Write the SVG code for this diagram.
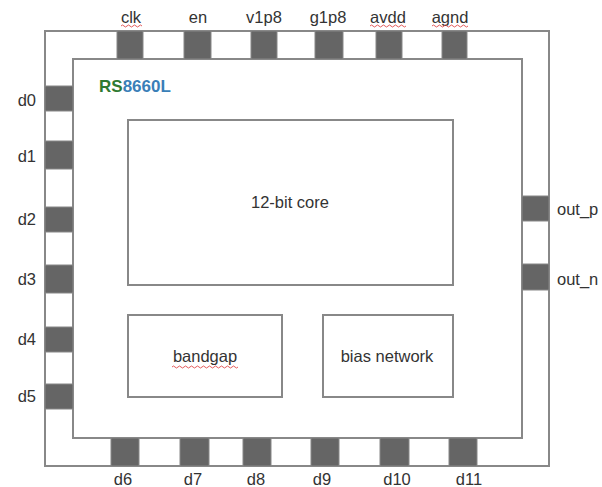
<svg xmlns="http://www.w3.org/2000/svg" width="602" height="487" viewBox="0 0 602 487">
<style>
.frame{fill:#fff;stroke:#888;stroke-width:2}
.blk{fill:#fff;stroke:#888;stroke-width:2}
.pad{fill:#656565;stroke:#888;stroke-width:1}
.lbl{font-family:"Liberation Sans",Arial,sans-serif;font-size:16.5px;fill:#333}
.mid{text-anchor:middle}
.end{text-anchor:end}
.sq{fill:none;stroke:#e04848;stroke-width:0.9}
</style>
<rect width="602" height="487" fill="#fff"/>
<g id="package">
<rect class="frame" x="45" y="31" width="504" height="435"/>
<rect class="frame" x="73" y="59" width="449" height="379"/>
<text x="99" y="92" style="font-family:'Liberation Sans',Arial,sans-serif;font-size:17px;font-weight:bold"><tspan fill="#2f7a32">RS</tspan><tspan fill="#3a7fb8">8660L</tspan></text>
</g>
<g id="pads-top">
<g id="pad-clk"><rect class="pad" x="117" y="31" width="26" height="28"/><text class="lbl mid" x="131" y="23">clk</text><path class="sq" d="M121 26 q1.5 -2 3 0 t3 0 t3 0 t3 0 t3 0 t3 0 t3 0"/></g>
<g id="pad-en"><rect class="pad" x="184" y="31" width="27" height="28"/><text class="lbl mid" x="198" y="23">en</text></g>
<g id="pad-v1p8"><rect class="pad" x="251" y="31" width="26" height="28"/><text class="lbl mid" x="264" y="23">v1p8</text></g>
<g id="pad-g1p8"><rect class="pad" x="315" y="31" width="28" height="28"/><text class="lbl mid" x="328" y="23">g1p8</text></g>
<g id="pad-avdd"><rect class="pad" x="376" y="31" width="26" height="28"/><text class="lbl mid" x="388" y="23">avdd</text><path class="sq" d="M370 26 q1.5 -2 3 0 t3 0 t3 0 t3 0 t3 0 t3 0 t3 0 t3 0 t3 0 t3 0 t3 0 t3 0"/></g>
<g id="pad-agnd"><rect class="pad" x="442" y="31" width="25" height="28"/><text class="lbl mid" x="450" y="23">agnd</text><path class="sq" d="M432 26 q1.5 -2 3 0 t3 0 t3 0 t3 0 t3 0 t3 0 t3 0 t3 0 t3 0 t3 0 t3 0 t3 0"/></g>
</g>
<g id="pads-left">
<g id="pad-d0"><rect class="pad" x="45" y="86" width="28" height="25"/><text class="lbl end" x="36" y="106">d0</text></g>
<g id="pad-d1"><rect class="pad" x="45" y="141" width="28" height="28"/><text class="lbl end" x="36" y="162">d1</text></g>
<g id="pad-d2"><rect class="pad" x="45" y="207" width="28" height="25"/><text class="lbl end" x="36" y="225">d2</text></g>
<g id="pad-d3"><rect class="pad" x="45" y="265" width="28" height="28"/><text class="lbl end" x="36" y="285">d3</text></g>
<g id="pad-d4"><rect class="pad" x="45" y="327" width="28" height="25"/><text class="lbl end" x="36" y="345">d4</text></g>
<g id="pad-d5"><rect class="pad" x="45" y="384" width="28" height="25"/><text class="lbl end" x="36" y="402">d5</text></g>
</g>
<g id="pads-right">
<g id="pad-out_p"><rect class="pad" x="522" y="196" width="27" height="25"/><text class="lbl" x="557" y="215">out_p</text></g>
<g id="pad-out_n"><rect class="pad" x="522" y="264" width="27" height="26"/><text class="lbl" x="557" y="285">out_n</text></g>
</g>
<g id="pads-bottom">
<g id="pad-d6"><rect class="pad" x="111" y="438" width="28" height="28"/><text class="lbl mid" x="123" y="485">d6</text></g>
<g id="pad-d7"><rect class="pad" x="180" y="438" width="29" height="28"/><text class="lbl mid" x="193" y="485">d7</text></g>
<g id="pad-d8"><rect class="pad" x="243" y="438" width="28" height="28"/><text class="lbl mid" x="256" y="485">d8</text></g>
<g id="pad-d9"><rect class="pad" x="311" y="438" width="28" height="28"/><text class="lbl mid" x="322" y="485">d9</text></g>
<g id="pad-d10"><rect class="pad" x="380" y="438" width="29" height="28"/><text class="lbl mid" x="397" y="485">d10</text></g>
<g id="pad-d11"><rect class="pad" x="449" y="438" width="28" height="28"/><text class="lbl mid" x="469" y="485">d11</text></g>
</g>
<g id="core"><rect class="blk" x="128" y="120" width="325" height="165"/><text class="lbl mid" x="290" y="208">12-bit core</text></g>
<g id="bandgap"><rect class="blk" x="128" y="315" width="154" height="82"/><text class="lbl mid" x="205" y="362">bandgap</text><path class="sq" d="M172 367 q1.5 -2 3 0 t3 0 t3 0 t3 0 t3 0 t3 0 t3 0 t3 0 t3 0 t3 0 t3 0 t3 0 t3 0 t3 0 t3 0 t3 0 t3 0 t3 0 t3 0 t3 0 t3 0 t3 0"/></g>
<g id="bias-network"><rect class="blk" x="323" y="315" width="130" height="82"/><text class="lbl mid" x="387" y="362">bias network</text></g>
<g id="connectors"></g>
</svg>
